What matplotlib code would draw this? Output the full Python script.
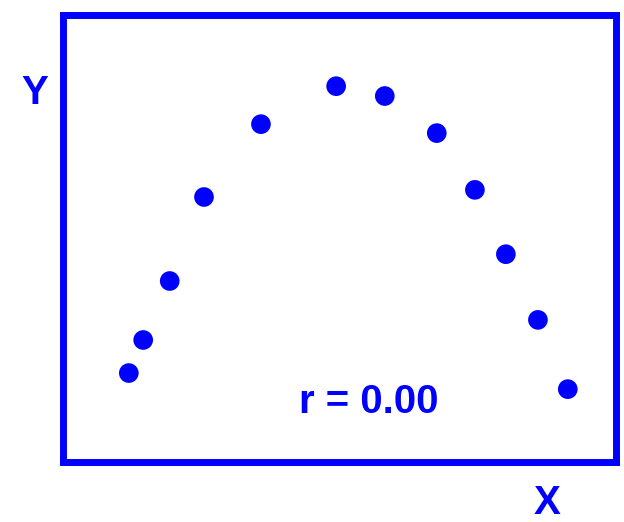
import matplotlib
matplotlib.use("Agg")
import matplotlib.pyplot as plt
from matplotlib import font_manager

# points along an arch: strong relationship, but zero linear correlation
x = [1.19, 1.45, 1.93, 2.55, 3.58, 4.94, 5.82, 6.76, 7.45, 8.01, 8.59, 9.13]
y = [1.99, 2.73, 4.05, 5.93, 7.56, 8.41, 8.19, 7.36, 6.09, 4.65, 3.18, 1.63]
r_label = "r = 0.00"

blue = "#0000ff"

# pick the regular-width Liberation Sans Bold file (not the Narrow one)
bold_file = None
for f in font_manager.fontManager.ttflist:
    if f.name == "Liberation Sans" and f.weight in (700, "bold") \
            and f.style == "normal" and "Narrow" not in f.fname:
        bold_file = f.fname
        break
if bold_file:
    font = font_manager.FontProperties(fname=bold_file, size=29)
else:
    font = font_manager.FontProperties(family="DejaVu Sans", weight="bold", size=26)

fig = plt.figure(figsize=(6.24, 5.22), dpi=100)
ax = fig.add_axes([0.101, 0.115, 0.886, 0.856])

ax.scatter(x, y, s=200, color=blue, edgecolors="none", zorder=3)
ax.set_xlim(0, 10)
ax.set_ylim(0, 10)
ax.set_xticks([])
ax.set_yticks([])
for side in ax.spines.values():
    side.set_color(blue)
    side.set_linewidth(5)

ax.text(5.53, 1.35, r_label, color=blue, fontproperties=font,
        ha="center", va="center")

fig.text(35 / 624, 1 - 93 / 522, "Y", color=blue, fontproperties=font,
         ha="center", va="center")
fig.text(547 / 624, 1 - 503 / 522, "X", color=blue, fontproperties=font,
         ha="center", va="center")

fig.savefig("out.png", dpi=100)
